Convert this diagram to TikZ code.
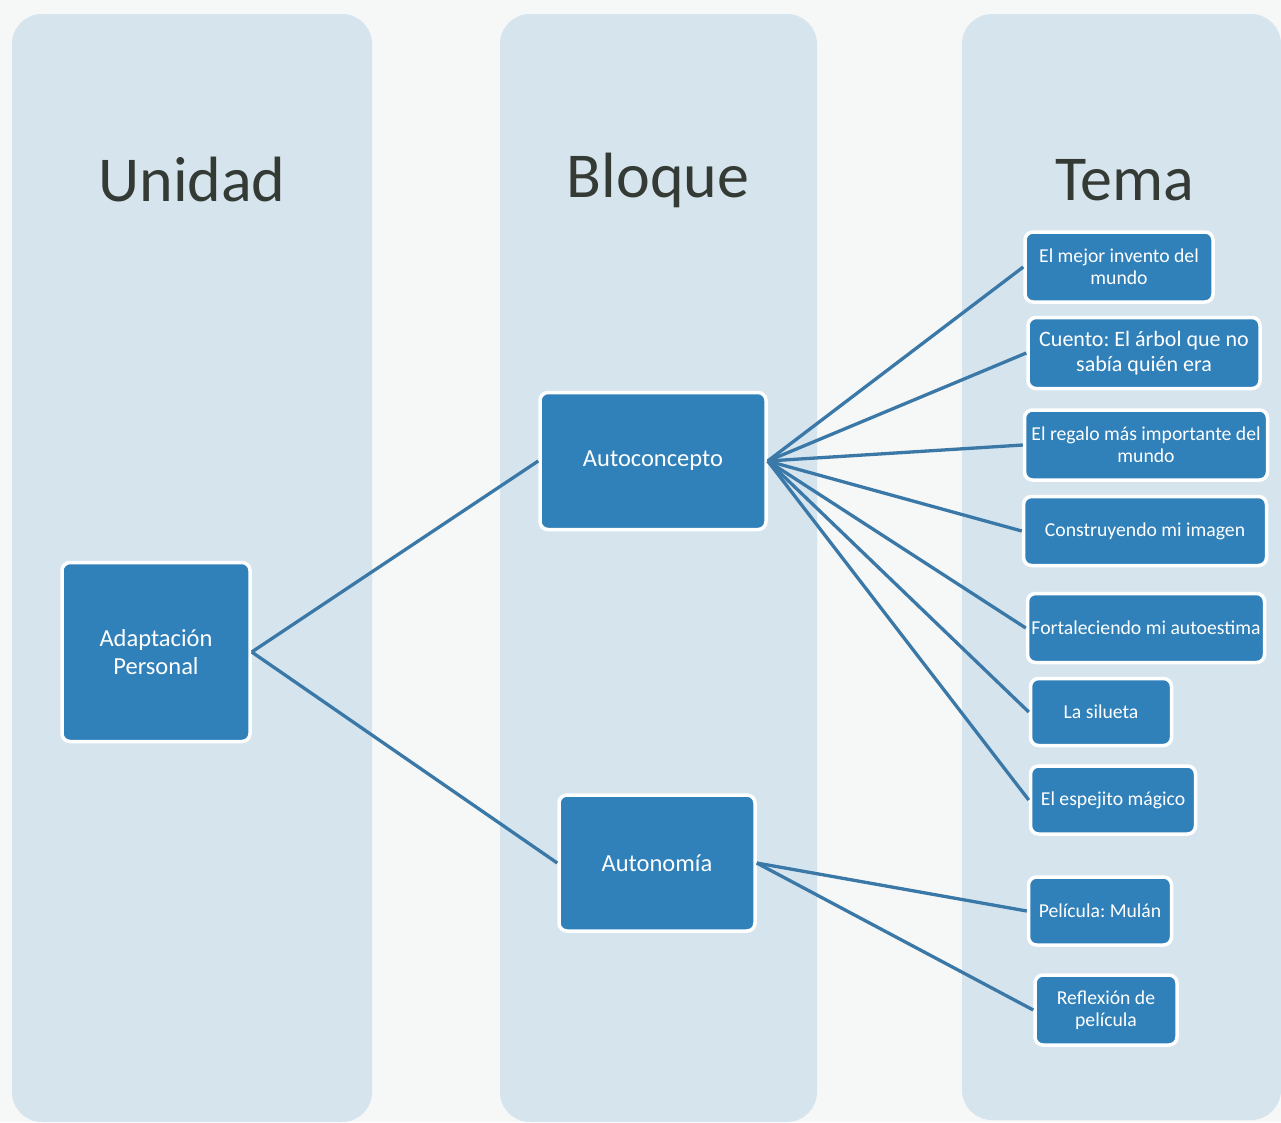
\documentclass[tikz,border=0pt]{standalone}
\usepackage{fontspec}
\setmainfont{Carlito}
\usepackage{xcolor}
\usetikzlibrary{positioning, calc}

\definecolor{pagebg}{RGB}{246,247,247}
\definecolor{colbg}{RGB}{214,228,238}
\definecolor{boxblue}{RGB}{48,128,185}
\definecolor{linkblue}{RGB}{58,120,168}
\definecolor{headgray}{RGB}{52,58,52}

\begin{document}
\frenchspacing
\begin{tikzpicture}[
    x=1pt, y=-1pt,
    column/.style={fill=colbg, draw=none, rounded corners=30pt},
    header/.style={text=headgray, font=\fontsize{64}{70}\selectfont},
    unitbox/.style={draw=white, line width=3.5pt, fill=boxblue, rounded corners=8pt,
        text=white, align=center, inner sep=2pt, font=\fontsize{24.5}{28}\selectfont},
    topicbox/.style={unitbox, font=\fontsize{19.7}{22}\selectfont},
    link/.style={-, draw=linkblue, line width=3.3pt}
]
    % Background and columns
    \fill[pagebg] (0,0) rectangle (1281,1122);
    \useasboundingbox (0,0) rectangle (1281,1122);
    \fill[column] (12,14) rectangle (372,1122);
    \fill[column] (500,14) rectangle (817,1122);
    \fill[column] (962,14) rectangle (1281,1120);

    % Headers
    \node (hunidad) [header] at (192,180) {Unidad};
    \node (hbloque) [header] at (658,180) {Bloque};
    \node (htema) [header] at (1125,180) {Tema};

    % Unidad
    \node (adapt) [unitbox, minimum width=188pt, minimum height=179pt] at (156,652) {Adaptación\\Personal};

    % Bloques
    \node (autoc) [unitbox, minimum width=226pt, minimum height=137pt] at (653,461) {Autoconcepto};
    \node (auton) [unitbox, minimum width=196pt, minimum height=136pt] at (657,863) {Autonomía};

    % Temas
    \node (invento) [topicbox, minimum width=188pt, minimum height=70pt] at (1119,267) {El mejor invento del\\mundo};
    \node (cuento) [topicbox, minimum width=232pt, minimum height=71pt, font=\fontsize{22}{25}\selectfont] at (1144,353) {Cuento: El árbol que no\\sabía quién era};
    \node (regalo) [topicbox, minimum width=243pt, minimum height=70pt] at (1146,445) {El regalo más importante del\\mundo};
    \node (imagen) [topicbox, minimum width=243pt, minimum height=69pt] at (1145,531) {Construyendo mi imagen};
    \node (autoest) [topicbox, minimum width=237pt, minimum height=69pt] at (1146,628) {Fortaleciendo mi autoestima};
    \node (silueta) [topicbox, minimum width=141pt, minimum height=67pt] at (1101,712) {La silueta};
    \node (espejo) [topicbox, minimum width=165pt, minimum height=68pt] at (1113,800) {El espejito mágico};
    \node (mulan) [topicbox, minimum width=143pt, minimum height=68pt] at (1100,911) {Película: Mulán};
    \node (reflex) [topicbox, minimum width=142pt, minimum height=70pt] at (1106,1010) {Reflexión de\\película};

    % Unidad to Bloques
    \draw[link] (adapt.east) -- (autoc.west);
    \draw[link] (adapt.east) -- (auton.west);

    % Autoconcepto to Temas
    \foreach \t in {invento, cuento, regalo, imagen, autoest, silueta, espejo}
        \draw[link] (autoc.east) -- (\t.west);

    % Autonomia to Temas
    \draw[link] (auton.east) -- (mulan.west);
    \draw[link] (auton.east) -- (reflex.west);
\end{tikzpicture}
\end{document}
